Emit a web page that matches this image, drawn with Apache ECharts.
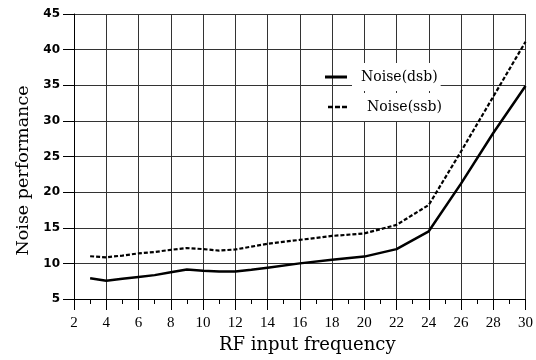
<!DOCTYPE html>
<html>
<head>
<meta charset="utf-8">
<script src="https://cdn.jsdelivr.net/npm/echarts@6/dist/echarts.min.js"></script>
<style>html,body{margin:0;padding:0;background:#fff;}#c{width:536px;height:360px;}</style>
</head>
<body>
<div id="c"></div>
<script>
var freq = [3, 4, 5, 6, 7, 8, 9, 10, 11, 12, 13, 14, 16, 18, 20, 22, 24, 26, 28, 30];
var noiseDsb = [7.9, 7.55, 7.85, 8.1, 8.35, 8.75, 9.15, 8.95, 8.85, 8.85, 9.1, 9.4, 10.0, 10.5, 10.95, 12.0, 14.5, 21.2, 28.3, 34.9];
var noiseSsb = [11.0, 10.85, 11.1, 11.4, 11.6, 11.9, 12.15, 12.0, 11.8, 11.95, 12.35, 12.75, 13.3, 13.85, 14.2, 15.4, 18.2, 25.7, 33.4, 41.1];
var xTicks = [2, 4, 6, 8, 10, 12, 14, 16, 18, 20, 22, 24, 26, 28, 30];
var yTicks = [5, 10, 15, 20, 25, 30, 35, 40, 45];
var seriesNames = ['Noise(dsb)', 'Noise(ssb)'];
var xTitle = 'RF input frequency';
var yTitle = 'Noise performance';

function pairs(xs, ys) { return xs.map(function (x, i) { return [x, ys[i]]; }); }

var chart = echarts.init(document.getElementById('c'), null, {renderer: 'canvas'});
chart.setOption({
  animation: false,
  backgroundColor: '#fff',
  grid: {left: 74, right: 9, top: 14, bottom: 61, containLabel: false},
  legend: [
    {
      data: [seriesNames[0]], left: 325, top: 63, padding: 0,
      icon: 'rect', itemWidth: 22, itemHeight: 3, symbolKeepAspect: false,
      itemStyle: {color: '#000'},
      textStyle: {fontFamily: 'DejaVu Serif', fontSize: 14, color: '#000', backgroundColor: '#fff', padding: [7, 3, 7, 9]}
    },
    {
      data: [seriesNames[1]], left: 328, top: 93, padding: 0,
      icon: 'path://M0,0h5v1h-5z M7,0h5v1h-5z M14,0h5v1h-5z', itemWidth: 19, itemHeight: 2.5, symbolKeepAspect: false,
      itemStyle: {color: '#000'},
      textStyle: {fontFamily: 'DejaVu Serif', fontSize: 14, color: '#000', backgroundColor: '#fff', padding: [7, 3, 7, 15]}
    }
  ],
  xAxis: {
    type: 'value', min: xTicks[0], max: xTicks[xTicks.length - 1], interval: 2,
    name: xTitle, nameLocation: 'middle', nameGap: 37,
    nameTextStyle: {fontFamily: 'DejaVu Serif', fontSize: 18, color: '#000', padding: [0, 0, 0, 15]},
    axisLine: {show: true, lineStyle: {color: '#000', width: 1}},
    axisTick: {show: true, length: 11, lineStyle: {color: '#000'}},
    minorTick: {show: true, splitNumber: 2, length: 5, lineStyle: {color: '#000'}},
    axisLabel: {fontFamily: 'Liberation Serif', fontSize: 15, color: '#000', margin: 17},
    splitLine: {show: true, lineStyle: {color: '#333', width: 1}}
  },
  yAxis: {
    type: 'value', min: yTicks[0], max: yTicks[yTicks.length - 1], interval: 5,
    name: yTitle, nameLocation: 'middle', nameGap: 42,
    nameTextStyle: {fontFamily: 'DejaVu Serif', fontSize: 17.5, color: '#000', padding: [0, 28, 0, 0]},
    axisLine: {show: true, lineStyle: {color: '#000', width: 1}},
    axisTick: {show: true, length: 11, lineStyle: {color: '#000'}},
    axisLabel: {fontFamily: 'DejaVu Sans', fontWeight: 'bold', fontSize: 12, color: '#000', margin: 14},
    splitLine: {show: true, lineStyle: {color: '#333', width: 1}}
  },
  series: [
    {
      name: seriesNames[0], type: 'line', data: pairs(freq, noiseDsb),
      symbol: 'none', lineStyle: {color: '#000', width: 2.5, type: 'solid'}, itemStyle: {color: '#000'}
    },
    {
      name: seriesNames[1], type: 'line', data: pairs(freq, noiseSsb),
      symbol: 'none', lineStyle: {color: '#000', width: 2.2, type: [4, 2]}, itemStyle: {color: '#000'}
    }
  ]
});
</script>
</body>
</html>
